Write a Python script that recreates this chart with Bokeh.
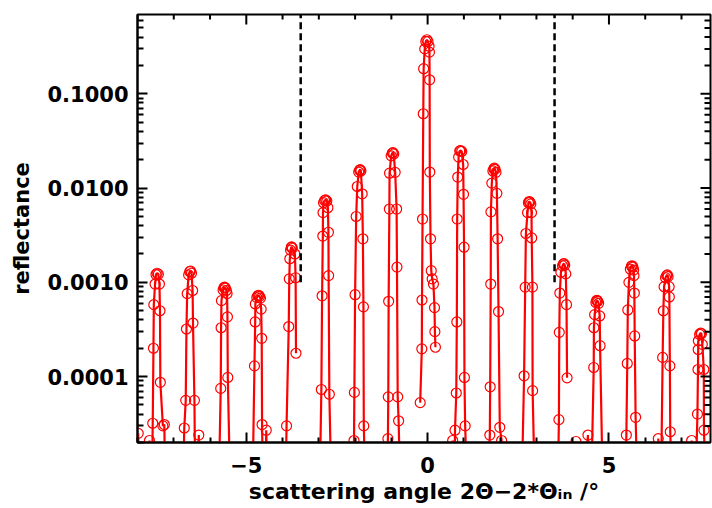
import math
from bokeh.plotting import figure
from bokeh.models import FixedTicker, PrintfTickFormatter
from bokeh.embed import file_html
from bokeh.resources import INLINE

# ---- data ----
peak_centres = [-7.46, -6.54, -5.60, -4.66, -3.75, -2.81, -1.86, -0.955, -0.02,
                0.91, 1.84, 2.80, 3.76, 4.67, 5.64, 6.61, 7.53]

peak_dx = [
    [-0.52, -0.46, -0.21, -0.17, -0.12, -0.10, -0.09, -0.055, -0.03, 0, 0.035, 0.065, 0.08, 0.09, 0.16, 0.20, 0.25],
    [-0.25, -0.17, -0.13, -0.11, -0.09, -0.05, -0.02, 0, 0.03, 0.06, 0.07, 0.11, 0.15, 0.23, 0.27],
    [-0.20, -0.105, -0.095, -0.085, -0.04, -0.015, 0, 0.02, 0.05, 0.07, 0.08, 0.09, 0.2],
    [-0.2, -0.115, -0.095, -0.09, -0.05, -0.02, 0, 0.025, 0.05, 0.07, 0.085, 0.095, 0.15, 0.21, 0.3],
    [-0.2, -0.14, -0.08, -0.065, -0.05, -0.03, -0.01, 0, 0.02, 0.09, 0.11, 0.12],
    [-0.2, -0.12, -0.1, -0.08, -0.075, -0.06, -0.03, 0, 0.03, 0.06, 0.075, 0.08, 0.1, 0.2],
    [-0.25, -0.17, -0.16, -0.14, -0.11, -0.08, -0.04, -0.015, 0, 0.02, 0.055, 0.075, 0.09, 0.1, 0.2],
    [-0.25, -0.14, -0.13, -0.12, -0.10, -0.095, -0.05, -0.02, 0, 0.02, 0.06, 0.1, 0.11, 0.13, 0.155, 0.25],
    [-0.185, -0.14, -0.135, -0.12, -0.10, -0.09, -0.06, -0.03, 0, 0.03, 0.06, 0.07, 0.075, 0.08, 0.1, 0.12, 0.145, 0.18, 0.21, 0.22, 0.235],
    [-0.3, -0.22, -0.19, -0.155, -0.12, -0.105, -0.095, -0.08, -0.055, -0.025, 0, 0.03, 0.07, 0.08, 0.095, 0.105, 0.125, 0.25],
    [-0.25, -0.125, -0.115, -0.10, -0.095, -0.07, -0.04, -0.015, 0, 0.02, 0.045, 0.07, 0.09, 0.115, 0.15, 0.2, 0.3],
    [-0.25, -0.14, -0.11, -0.09, -0.045, -0.02, 0, 0.02, 0.045, 0.065, 0.07, 0.09, 0.095, 0.2],
    [-0.2, -0.14, -0.13, -0.115, -0.085, -0.04, -0.015, 0, 0.02, 0.05, 0.07, 0.085],
    [-0.58, -0.5, -0.25, -0.2, -0.09, -0.085, -0.065, -0.03, -0.01, 0, 0.02, 0.045, 0.075, 0.085, 0.2],
    [-0.25, -0.16, -0.135, -0.12, -0.09, -0.05, -0.02, 0, 0.02, 0.04, 0.05, 0.06, 0.07, 0.095, 0.2],
    [-0.25, -0.2, -0.13, -0.11, -0.09, -0.05, -0.02, 0, 0.02, 0.05, 0.055, 0.07, 0.08, 0.2],
    [-0.25, -0.2, -0.09, -0.075, -0.07, -0.065, -0.03, 0, 0.02, 0.045, 0.085, 0.09, 0.2],
]

peak_refl = [
    [2.5e-5, 1e-6, 2.1e-5, 1e-6, 3.2e-5, 2.0e-4, 5.8e-4, 9.6e-4, 1.21e-3, 1.25e-3, 1.22e-3, 9.6e-4, 5.0e-4, 8.7e-5, 3.0e-5, 3.1e-5, 1e-6],
    [1e-6, 2.85e-5, 5.6e-5, 3.2e-4, 7.6e-4, 1.2e-3, 1.3e-3, 1.32e-3, 1.25e-3, 8.2e-4, 3.7e-4, 5.6e-5, 1e-6, 2.4e-5, 1e-6],
    [1e-6, 7.5e-5, 3.3e-4, 6.4e-4, 8.3e-4, 8.8e-4, 8.9e-4, 8.7e-4, 8.2e-4, 7.6e-4, 4.3e-4, 9.8e-5, 1e-6],
    [1e-6, 1.3e-4, 3.8e-4, 5.9e-4, 6.9e-4, 7.2e-4, 7.3e-4, 7.1e-4, 6.8e-4, 5.2e-4, 2.55e-4, 3.1e-5, 1e-6, 2.7e-5, 1e-6],
    [1e-6, 3.0e-5, 3.4e-4, 1.09e-3, 1.78e-3, 2.2e-3, 2.35e-3, 2.38e-3, 2.3e-3, 2.0e-3, 1.12e-3, 1.77e-4],
    [1e-6, 7.3e-5, 7.2e-4, 3.1e-3, 5.5e-3, 7.0e-3, 7.4e-3, 7.5e-3, 7.3e-3, 6.2e-3, 3.4e-3, 1.18e-3, 6.5e-5, 1e-6],
    [1e-6, 2.1e-5, 6.8e-5, 7.4e-4, 5.0e-3, 0.0104, 0.0148, 0.0155, 0.0157, 0.0152, 8.7e-3, 2.9e-3, 5.5e-4, 3.0e-5, 1e-6],
    [1e-6, 2.2e-5, 6.1e-5, 6.3e-4, 6.0e-3, 0.0144, 0.022, 0.0235, 0.0238, 0.023, 0.0147, 6.0e-3, 1.45e-3, 6.1e-5, 3.4e-5, 1e-6],
    [5.3e-5, 1.97e-4, 6.5e-4, 4.7e-3, 0.0615, 0.185, 0.30, 0.36, 0.375, 0.36, 0.32, 0.277, 0.141, 0.0148, 2.9e-3, 1.33e-3, 1.09e-3, 9.6e-4, 5.4e-4, 3.0e-4, 2.05e-4],
    [1e-6, 2.1e-5, 1e-6, 2.7e-5, 6.7e-5, 3.8e-4, 4.7e-3, 0.0131, 0.0213, 0.0248, 0.025, 0.0245, 0.0178, 8.6e-3, 2.36e-3, 9.8e-5, 3.0e-5, 1e-6],
    [1e-6, 2.4e-5, 7.8e-5, 9.6e-4, 5.6e-3, 0.0113, 0.0152, 0.016, 0.0163, 0.0158, 0.0147, 8.8e-3, 2.9e-3, 4.9e-4, 2.9e-5, 2.1e-5, 1e-6],
    [1e-6, 1.02e-4, 8.9e-4, 3.3e-3, 5.5e-3, 7.0e-3, 7.2e-3, 7.1e-3, 6.8e-3, 5.5e-3, 2.96e-3, 8.9e-4, 7.1e-5, 1e-6],
    [1e-6, 3.5e-5, 2.95e-4, 7.7e-4, 1.28e-3, 1.5e-3, 1.57e-3, 1.58e-3, 1.52e-3, 1.23e-3, 5.8e-4, 9.7e-5],
    [2.05e-5, 1e-6, 2.4e-5, 1e-6, 1.25e-4, 3.3e-4, 4.55e-4, 6.1e-4, 6.4e-4, 6.45e-4, 6.3e-4, 6.0e-4, 4.4e-4, 2.13e-4, 1e-6],
    [1e-6, 2.4e-5, 1.38e-4, 5.1e-4, 1.0e-3, 1.38e-3, 1.48e-3, 1.5e-3, 1.45e-3, 1.35e-3, 1.18e-3, 7.7e-4, 2.7e-4, 3.7e-5, 1e-6],
    [2.2e-5, 1e-6, 1.6e-4, 5.0e-4, 9.0e-4, 1.12e-3, 1.18e-3, 1.2e-3, 1.15e-3, 9e-4, 7e-4, 1.3e-4, 2.6e-5, 1e-6],
    [2.1e-5, 1e-6, 4.0e-5, 1.19e-4, 1.94e-4, 2.4e-4, 2.8e-4, 2.9e-4, 2.85e-4, 2.2e-4, 1.19e-4, 2.7e-5, 1e-6],
]

cut_angles = [-3.5, 3.5]          # dashed markers
cut_floor = 1e-3
x_major = [-5, 0, 5]
x_minor = [-8, -7, -6, -4, -3, -2, -1, 1, 2, 3, 4, 6, 7]
y_major = [1e-4, 1e-3, 1e-2, 1e-1]
decades = [1e-5, 1e-4, 1e-3, 1e-2, 1e-1]
y_minor = [d * m for d in decades for m in range(2, 10)]
x_title = "scattering angle 2\u0398\u22122*\u0398\u1d62\u2099 /\u00b0"
y_title = "reflectance"

FONT = "DejaVu Sans"
RED = "#ff0000"
XMIN, XMAX = -8.0, 7.8
YMIN, YMAX = 2.0e-5, 0.695
FW, FH = 573, 428           # frame size in px

p = figure(width=712, height=508, x_range=(XMIN, XMAX), y_range=(YMIN, YMAX),
           y_axis_type="log", output_backend="svg", toolbar_location=None,
           min_border_left=137, min_border_right=2, min_border_top=14, min_border_bottom=66)
p.outline_line_color = "black"
p.outline_line_width = 2
p.xgrid.visible = False
p.ygrid.visible = False
p.background_fill_color = "white"
p.border_fill_color = "white"

for c, dx, r in zip(peak_centres, peak_dx, peak_refl):
    xs = [c + d for d in dx]
    p.line(xs, r, line_color=RED, line_width=2.2)
    p.scatter(xs, r, marker="circle", size=10, fill_color=None, line_color=RED, line_width=1.2)

p.segment(x0=cut_angles, y0=[cut_floor] * 2, x1=cut_angles, y1=[1.0] * 2,
          line_color="black", line_width=2.5, line_dash="7 4")

xt = FixedTicker(ticks=x_major, minor_ticks=x_minor)
yt = FixedTicker(ticks=y_major, minor_ticks=y_minor)

# mirrored ticks on the top and right edges of the frame
px_per_x = FW / (XMAX - XMIN)
px_per_dec = FH / math.log10(YMAX / YMIN)
for ticks, length in ((x_major, 10), (x_minor, 5)):
    f = 10 ** (-length / px_per_dec)
    p.segment(x0=ticks, y0=[YMAX] * len(ticks), x1=ticks, y1=[YMAX * f] * len(ticks),
              line_color="black", line_width=2)
for ticks, length in ((y_major, 10), ([t for t in y_minor if YMIN < t < YMAX], 6)):
    p.segment(x0=[XMAX] * len(ticks), y0=ticks, x1=[XMAX - length / px_per_x] * len(ticks), y1=ticks,
              line_color="black", line_width=2)


def style(ax):
    ax.axis_line_width = 2
    ax.axis_line_color = "black"
    ax.major_tick_line_width = 2
    ax.minor_tick_line_width = 2
    ax.major_tick_line_color = "black"
    ax.minor_tick_line_color = "black"
    ax.major_tick_out = 0
    ax.minor_tick_out = 0
    ax.major_tick_in = 10
    ax.minor_tick_in = 6
    ax.major_label_text_font = FONT
    ax.major_label_text_font_style = "bold"
    ax.major_label_text_font_size = "21px"
    ax.major_label_text_color = "black"
    ax.axis_label_text_font = FONT
    ax.axis_label_text_font_style = "bold"
    ax.axis_label_text_color = "black"


xa = p.xaxis[0]
xa.ticker = xt
style(xa)
xa.minor_tick_in = 5
xa.major_label_standoff = 14
xa.major_label_overrides = {-5: "\u22125", 0: "0", 5: "5"}
xa.axis_label = x_title
xa.axis_label_text_font_size = "22px"
xa.axis_label_standoff = 3

ya = p.yaxis[0]
ya.ticker = yt
ya.formatter = PrintfTickFormatter(format="%.4f")
style(ya)
ya.major_label_standoff = 9
ya.axis_label = y_title
ya.axis_label_text_font_size = "21px"
ya.axis_label_standoff = 10

open("out.html", "w").write(file_html(p, INLINE))
